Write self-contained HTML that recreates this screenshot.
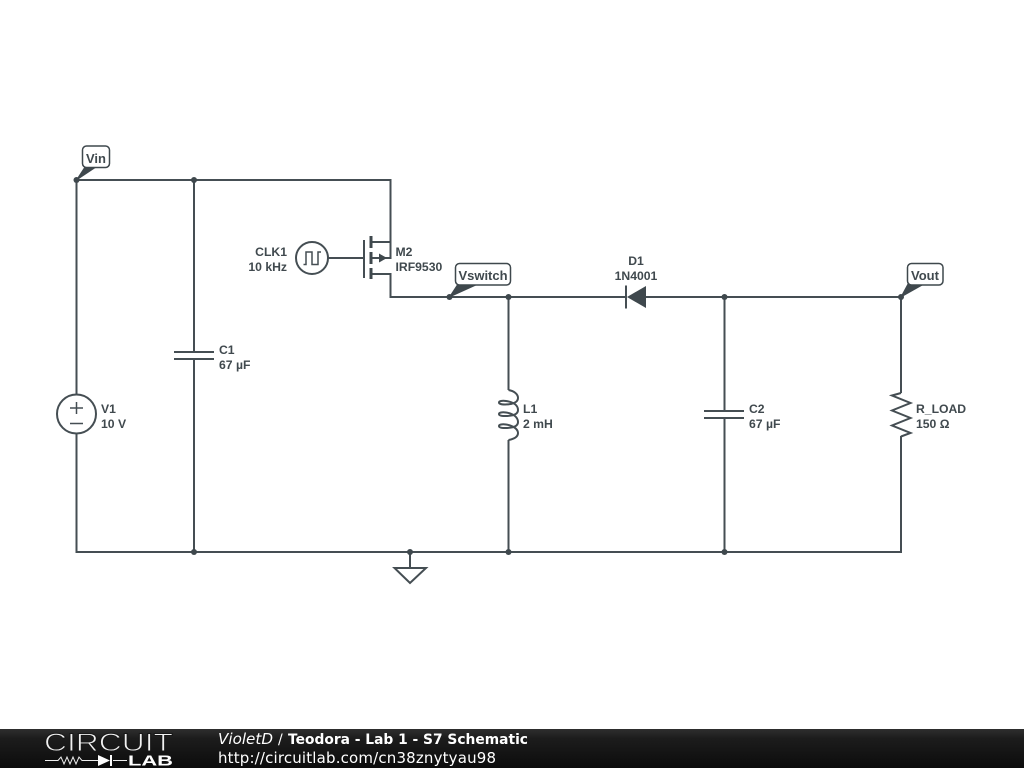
<!DOCTYPE html>
<html>
<head>
<meta charset="utf-8">
<style>
html,body{margin:0;padding:0;background:#fff;width:1024px;height:768px;overflow:hidden}
svg{display:block}
.w{fill:none;stroke:#454e53;stroke-width:2}
.t{font-family:"Liberation Sans",sans-serif;font-weight:bold;font-size:12.2px;fill:#40494e}
.n{font-family:"Liberation Sans",sans-serif;font-weight:bold;font-size:13px;fill:#40494e}
.f{font-family:"DejaVu Sans",sans-serif;font-size:14px;fill:#fff}
</style>
</head>
<body>
<svg width="1024" height="768" viewBox="0 0 1024 768" xmlns="http://www.w3.org/2000/svg">
<defs>
<linearGradient id="g" x1="0" y1="0" x2="0" y2="1">
<stop offset="0" stop-color="#2e2e2e"/><stop offset="0.25" stop-color="#1c1c1c"/><stop offset="1" stop-color="#0c0c0c"/>
</linearGradient>
</defs>
<rect width="1024" height="768" fill="#fff"/>

<!-- wires -->
<path class="w" d="M76.5 394V180H390.5V242H371M371 258H390.5V242M371 274H390.5V297H626M646 297H901V393M901 436V552H76.5V434"/>
<path class="w" d="M194 180V352M194 359V552"/>
<path class="w" d="M724.5 297V411M724.5 418V552"/>
<path class="w" d="M508.5 297V390M508.5 440V552"/>
<path class="w" d="M410 552V568"/>

<!-- V1 -->
<circle class="w" cx="76.5" cy="414" r="19.5"/>
<path d="M70 408H83M76.5 402V414M70 423.500H83" fill="none" stroke="#454e53" stroke-width="1.500"/>

<!-- Caps -->
<path class="w" d="M174 352H214M174 359H214"/>
<path class="w" d="M704 411H744M704 418H744"/>

<!-- CLK -->
<circle class="w" cx="312" cy="258" r="16"/>
<path d="M303.500 264.500H306V252H312V264.500H318V252H321" fill="none" stroke="#454e53" stroke-width="1.500"/>
<path class="w" d="M328 258H364"/>

<!-- MOSFET -->
<path class="w" d="M364 240V278"/>
<path d="M371 236V248M371 252V264M371 268V279" fill="none" stroke="#3f484d" stroke-width="3"/>
<path d="M379 253.500L387 258L379 262.500Z" fill="#3f484d"/>

<!-- Diode -->
<path class="w" d="M626 285.500V308.500"/>
<path d="M627 297L646 286V308Z" fill="#3f484d"/>

<!-- Inductor -->
<path class="w" d="M508.500 390C514 391 518 394 518 398C518 402.500 512 404.500 505 404.500C501 404.500 499 403.500 499 402.500C499 401 502 400.500 506 401C513 402 518 405 518 410C518 414.500 512 416 505 416C501 416 499 415.500 499 414C499 412.500 502 412 506 412.500C513 413.500 518 417 518 422C518 426.500 512 428 505 428C501 428 499 427.500 499 426C499 424.500 502 424 506 424.500C513 425.500 518 429 518 433C518 437 514 439 508.500 440"/>

<!-- Resistor -->
<path class="w" stroke-linejoin="miter" d="M901 393L892 395.500L910.500 403L892 410.500L910.500 418L892 425.500L910.500 433L901 436.500"/>

<!-- Ground -->
<path class="w" d="M394.500 568H426L410 583Z"/>

<!-- Junctions -->
<g fill="#3f484d">
<circle cx="76.500" cy="180" r="3"/><circle cx="194" cy="180" r="3"/>
<circle cx="449.500" cy="297" r="3"/><circle cx="508.500" cy="297" r="3"/>
<circle cx="724.500" cy="297" r="3"/><circle cx="901" cy="297" r="3"/>
<circle cx="194" cy="552" r="3"/><circle cx="410" cy="552" r="3"/>
<circle cx="508.500" cy="552" r="3"/><circle cx="724.500" cy="552" r="3"/>
<!-- flags -->
<path d="M76.500 180L85 167H96Z" stroke="#3f484d" stroke-width="1"/>
<path d="M449.500 297L458 284H478Z" stroke="#3f484d" stroke-width="1"/>
<path d="M901 297L908 284H924Z" stroke="#3f484d" stroke-width="1"/>
</g>
<g fill="#fff" stroke="#3f484d" stroke-width="1.500">
<rect x="82.500" y="146" width="27" height="21.500" rx="4"/>
<rect x="455.500" y="263.500" width="55" height="21.500" rx="4"/>
<rect x="907.500" y="263.500" width="35.500" height="21.500" rx="4"/>
</g>

<!-- Labels -->
<text class="n" x="96" y="163" text-anchor="middle">Vin</text>
<text class="n" x="483" y="280" text-anchor="middle">Vswitch</text>
<text class="n" x="925" y="280" text-anchor="middle">Vout</text>
<text class="t" x="219" y="354">C1</text>
<text class="t" x="219" y="369">67 µF</text>
<text class="t" x="101" y="413">V1</text>
<text class="t" x="101" y="428">10 V</text>
<text class="t" x="287" y="256" text-anchor="end">CLK1</text>
<text class="t" x="287" y="271" text-anchor="end">10 kHz</text>
<text class="t" x="395.500" y="256">M2</text>
<text class="t" x="395.500" y="271">IRF9530</text>
<text class="t" x="636" y="265" text-anchor="middle">D1</text>
<text class="t" x="636" y="280" text-anchor="middle">1N4001</text>
<text class="t" x="523" y="413">L1</text>
<text class="t" x="523" y="428">2 mH</text>
<text class="t" x="749" y="413">C2</text>
<text class="t" x="749" y="428">67 µF</text>
<text class="t" x="916" y="413">R_LOAD</text>
<text class="t" x="916" y="428">150 Ω</text>

<!-- Footer -->
<rect x="0" y="729" width="1024" height="39" fill="url(#g)"/>
<text x="44" y="751" font-family="Liberation Sans,sans-serif" font-size="25" textLength="129" lengthAdjust="spacingAndGlyphs" fill="#f2f2f2" stroke="#181818" stroke-width="0.900" paint-order="fill stroke">CIRCUIT</text>
<path d="M45 760.500H58L61 757L64 764L67 757L70 764L73 757L76 764L79 757L82 760.500H98M113 760.500H127" fill="none" stroke="#eee" stroke-width="1"/>
<path d="M98 755L110 760.500L98 766Z" fill="#fff"/>
<path d="M111 755V766" stroke="#fff" stroke-width="2"/>
<text x="128" y="765.500" font-family="Liberation Sans,sans-serif" font-weight="bold" font-size="15" textLength="45" lengthAdjust="spacingAndGlyphs" fill="#fff">LAB</text>
<text class="f" x="218" y="744" font-size="15" style="font-size:15px;font-style:italic" textLength="55" lengthAdjust="spacingAndGlyphs">VioletD</text>
<text class="f" x="278" y="744">/</text>
<text class="f" x="288" y="744" style="font-weight:bold" textLength="240" lengthAdjust="spacingAndGlyphs">Teodora - Lab 1 - S7 Schematic</text>
<text class="f" x="218" y="763" style="font-size:15px" textLength="278" lengthAdjust="spacing">http://circuitlab.com/cn38znytyau98</text>
</svg>
</body>
</html>
